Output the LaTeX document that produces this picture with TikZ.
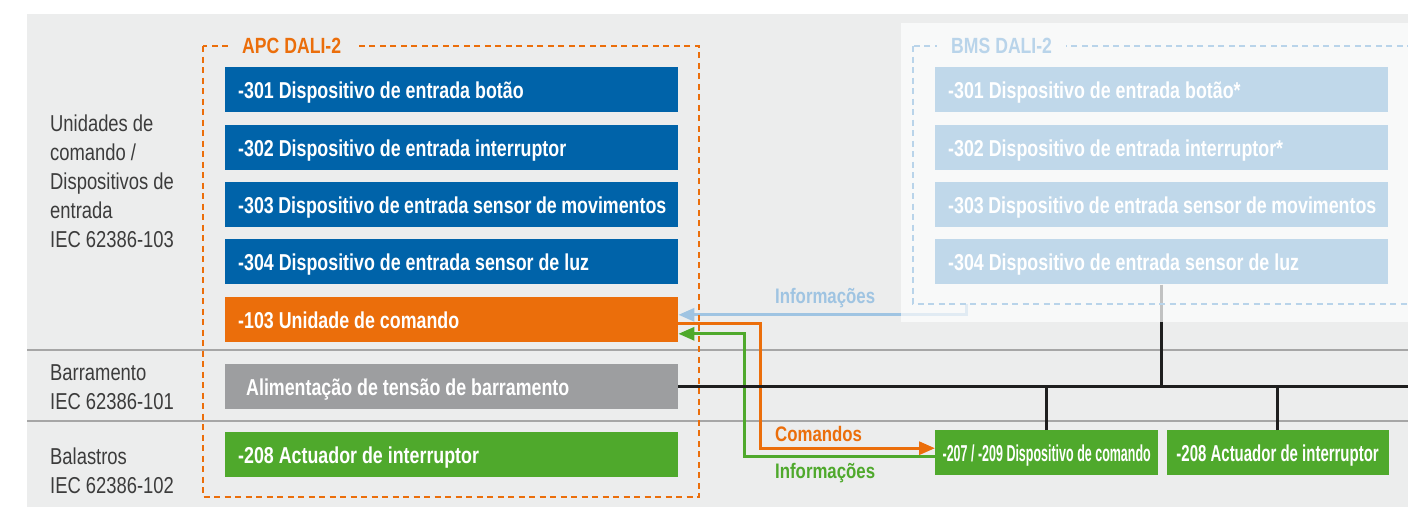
\documentclass[tikz,border=0pt]{standalone}
\usepackage{fontspec}
\setmainfont[FakeStretch=0.8]{Liberation Sans}
\newfontfamily\boxfamily[FakeStretch=0.775]{Liberation Sans}
\usetikzlibrary{positioning,arrows.meta}

\definecolor{dalibg}{HTML}{ECEDED}
\definecolor{bmsbg}{HTML}{F8F9F9}
\definecolor{daliblue}{HTML}{0063A9}
\definecolor{daliorange}{HTML}{EB6E0B}
\definecolor{daligrey}{HTML}{9D9EA0}
\definecolor{daligreen}{HTML}{4FA92C}
\definecolor{bmsfill}{HTML}{C0D8EA}
\definecolor{infoblue}{HTML}{9FC4E2}
\definecolor{bmsdash}{HTML}{B9D4EA}
\definecolor{labeltext}{HTML}{3C3C3C}
\definecolor{busblack}{HTML}{1E1E1E}
\definecolor{sepline}{HTML}{A6A6A6}

\newcommand\tightspace{\spaceskip 5pt plus 0.5pt minus 0.5pt\relax}
\newcommand\dalifont{\fontsize{23}{28}\selectfont\boxfamily\bfseries\tightspace}

\tikzset{
  textspan/.style={execute at begin node={\hbox to #1\bgroup}, execute at end node={\hfil\egroup}},
  boxbase/.style={anchor=north west, minimum height=45pt, minimum width=453pt,
    inner ysep=0pt, text height=22pt, text depth=4pt, text=white, font=\dalifont},
  dalibox/.style={boxbase, inner xsep=13pt, textspan=427pt},
  bluebox/.style={dalibox, fill=daliblue},
  bmsbox/.style={dalibox, fill=bmsfill},
  supplybox/.style={boxbase, inner xsep=21pt, textspan=411pt, fill=daligrey},
  devbox/.style={anchor=north west, minimum width=223pt, minimum height=45pt,
    inner sep=0pt, text height=22pt, text depth=4pt, fill=daligreen, text=white, font=\dalifont},
  sidelabel/.style={anchor=north west, inner sep=0pt, align=left, text=labeltext,
    font=\fontsize{23}{29}\selectfont\tightspace},
  flowlabel/.style={anchor=west, inner sep=0pt, font=\fontsize{21}{24}\selectfont\bfseries},
  framelabel/.style={anchor=west, inner xsep=14pt, inner ysep=2pt,
    font=\fontsize{22}{26}\selectfont\bfseries\tightspace},
  dataflow/.style={line width=3pt, -{Triangle[length=16pt,width=13pt]}},
  bus/.style={line width=3pt, draw=busblack},
  dashframe/.style={line width=2.5pt, dash pattern=on 6pt off 4.5pt},
}

\begin{document}
\begin{tikzpicture}[x=1pt, y=-1pt]
  \useasboundingbox (0,0) rectangle (1408,507);
  \clip (0,0) rectangle (1408,507);

  % panels
  \fill[dalibg] (27,14) rectangle (1408,507);
  \fill[bmsbg] (901,23) rectangle (1408,322);
  \draw[sepline, line width=2pt] (27,350) -- (1408,350);
  \draw[sepline, line width=2pt] (27,421) -- (1408,421);

  % row labels
  \node[sidelabel] (inputs) at (50,115) {Unidades de\\comando /\\Dispositivos de\\entrada\\IEC 62386-103};
  \node[sidelabel] (busrow) at (50,364) {Barramento\\IEC 62386-101};
  \node[sidelabel] (ballast) at (50,448) {Balastros\\IEC 62386-102};

  % APC DALI-2
  \node[bluebox] (b301) at (225,67) {-301 Dispositivo de entrada botão};
  \node[bluebox, below=12pt of b301] (b302) {-302 Dispositivo de entrada interruptor};
  \node[bluebox, below=12pt of b302] (b303) {-303 Dispositivo de entrada sensor de movimentos};
  \node[bluebox, below=12pt of b303] (b304) {-304 Dispositivo de entrada sensor de luz};
  \node[dalibox, fill=daliorange, below=12pt of b304] (ctrl103) {-103 Unidade de comando};
  \node[supplybox, below=22pt of ctrl103] (supply) {Alimentação de tensão de barramento};
  \node[dalibox, fill=daligreen, below=22pt of supply] (act208) {-208 Actuador de interruptor};

  % BMS DALI-2
  \node[bmsbox] (bms301) at (935,67) {-301 Dispositivo de entrada botão*};
  \node[bmsbox, below=12pt of bms301] (bms302) {-302 Dispositivo de entrada interruptor*};
  \node[bmsbox, below=12pt of bms302] (bms303) {-303 Dispositivo de entrada sensor de movimentos};
  \node[bmsbox, below=12pt of bms303] (bms304) {-304 Dispositivo de entrada sensor de luz};

  \node[devbox] (dev207) at (935,430) {\scalebox{0.7}[1]{-207 / -209 Dispositivo de comando}};
  \node[devbox, right=8pt of dev207, minimum width=222pt] (dev208) {\scalebox{0.84}[1]{-208 Actuador de interruptor}};

  % commands and information
  \coordinate (bmsout) at (966,304);
  \draw[dataflow, draw=infoblue] (bmsout) |- ([yshift=4.5pt]ctrl103.east);
  \draw[dataflow, draw=daliorange] ([yshift=-4.5pt]ctrl103.east) -- ++(82,0) |- ([yshift=4.5pt]dev207.west);
  \draw[dataflow, draw=daligreen] ([yshift=-3.5pt]dev207.west) -- ++(-191,0) |- ([yshift=-14.5pt]ctrl103.east);

  \node[flowlabel, text=infoblue] (infobms) at (775,298) {Informações};
  \node[flowlabel, text=daliorange] (cmds) at (775,434) {Comandos};
  \node[flowlabel, text=daligreen] (infodev) at (775,473) {Informações};

  % bus
  \coordinate (busend) at (1408,384);
  \draw[bus] (supply.east) -- (supply.east -| busend);
  \draw[bus] (bms304.south) -- (bms304.south |- supply.east);
  \draw[bus] (dev207.north) -- (dev207.north |- supply.east);
  \draw[bus] (dev208.north) -- (dev208.north |- supply.east);
  \fill[bmsbg, opacity=0.75] (901,284) rectangle (1408,322);

  % frames
  \draw[dashframe, draw=daliorange] (203,46) rectangle (699,497);
  \node[framelabel, text=daliorange, fill=dalibg] (apc) at (228,46) {APC DALI-2};
  \draw[dashframe, draw=bmsdash] (913,46) rectangle (1430,304);
  \node[framelabel, text=bmsdash, fill=bmsbg] (bms) at (937,46) {BMS DALI-2};
\end{tikzpicture}
\end{document}
